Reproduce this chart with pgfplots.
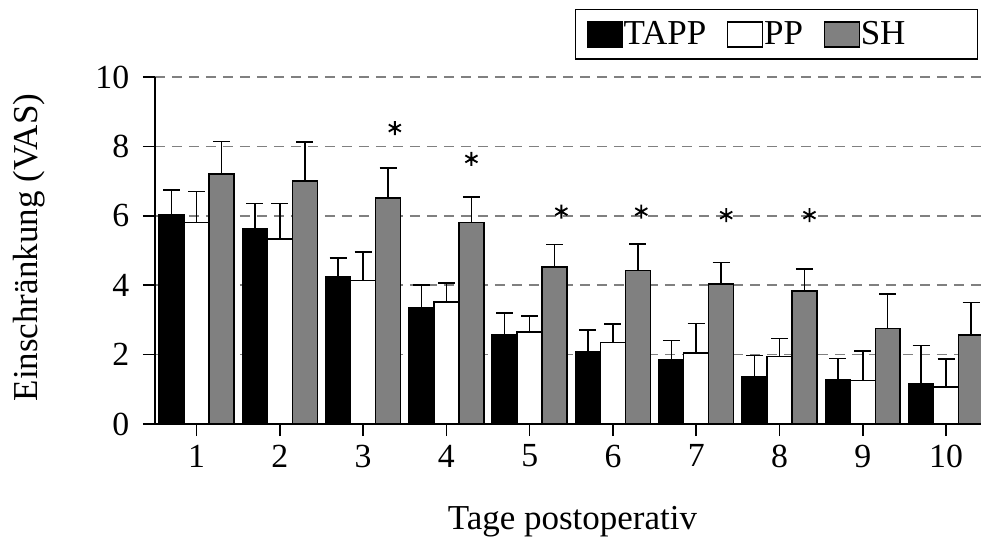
\documentclass[border=0pt]{standalone}
\usepackage{fontspec}
\setmainfont{Liberation Serif}
\usepackage{pgfplots}
\pgfplotsset{compat=1.18}
\pgfplotsset{
  frame/.style={
    scale only axis, width=330.4pt, height=138.8pt,
    xmin=0.5, xmax=10.42, ymin=0, ymax=10,
  },
  mybar/.style={
    draw=black, line width=0.6pt,
    error bars/y dir=plus, error bars/y explicit,
    error bars/error bar style={line width=0.6pt, black},
    error bars/error mark options={rotate=90, line width=0.6pt, black, mark size=3.4pt},
  },
}
\begin{document}
\begin{tikzpicture}
\begin{axis}[
  frame,
  ybar=0pt, bar width=0.3,
  xtick={1,...,10}, ytick={0,2,...,10},
  axis x line=bottom, axis y line=left,
  axis line style={-, line width=0.6pt, black},
  every outer x axis line/.append style={-},
  every outer y axis line/.append style={-},
  tick align=outside, major tick length=4.8pt,
  tick style={line width=0.6pt, black},
  ymajorgrids,
  grid style={dash pattern=on 4pt off 2.8pt, gray, line width=0.6pt},
  ticklabel style={font=\fontsize{13.5}{16}\selectfont},
  yticklabel style={xshift=-2pt},
  /pgf/number format/assume math mode=true,
  label style={font=\fontsize{14}{17}\selectfont},
  xlabel={Tage postoperativ},
  ylabel={Einschränkung (VAS)},
  xlabel style={at={(axis description cs:0.5054,-0.282)}, anchor=center},
  ylabel style={at={(axis description cs:-0.1525,0.5086)}, anchor=center},
  clip=false,
  legend columns=3,
  legend image code/.code={%
    \draw[#1, line width=0.5pt, draw=black] (0pt,-5pt) rectangle (14pt,5pt);},
  legend style={at={(0.9964,1.196)}, anchor=north east, draw=black,
    line width=0.6pt, inner xsep=4.4pt, inner ysep=3.5pt,
    font=\fontsize{14}{16}\selectfont, nodes={inner xsep=0.3pt, inner ysep=1pt},
    /tikz/every even column/.append style={column sep=8pt}},
]
\addplot[mybar, bar shift=-0.3, fill=black] coordinates {
  (1,6.02) +- (0,0.72)
  (2,5.64) +- (0,0.71)
  (3,4.25) +- (0,0.53)
  (4,3.36) +- (0,0.64)
  (5,2.56) +- (0,0.64)
  (6,2.07) +- (0,0.64)
  (7,1.86) +- (0,0.54)
  (8,1.36) +- (0,0.61)
  (9,1.27) +- (0,0.62)
  (10,1.16) +- (0,1.10)
};
\addlegendentry{TAPP}
\addplot[mybar, bar shift=0, fill=white] coordinates {
  (1,5.81) +- (0,0.89)
  (2,5.33) +- (0,1.02)
  (3,4.14) +- (0,0.82)
  (4,3.52) +- (0,0.54)
  (5,2.65) +- (0,0.46)
  (6,2.35) +- (0,0.53)
  (7,2.05) +- (0,0.85)
  (8,1.94) +- (0,0.53)
  (9,1.25) +- (0,0.85)
  (10,1.07) +- (0,0.80)
};
\addlegendentry{PP}
\addplot[mybar, bar shift=0.3, fill=gray] coordinates {
  (1,7.20) +- (0,0.94)
  (2,7.01) +- (0,1.12)
  (3,6.51) +- (0,0.87)
  (4,5.81) +- (0,0.73)
  (5,4.53) +- (0,0.64)
  (6,4.43) +- (0,0.76)
  (7,4.03) +- (0,0.62)
  (8,3.84) +- (0,0.62)
  (9,2.75) +- (0,1.00)
  (10,2.56) +- (0,0.94)
};
\addlegendentry{SH\hspace*{24pt}}
\coordinate (bbsw) at (rel axis cs:-0.18765,-0.32853);
\coordinate (bbne) at (rel axis cs:1,1.2219);
\end{axis}
% significance asterisks, same frame as the bar axis
\begin{axis}[frame, hide axis, clip=false]
\addplot[only marks, mark=asterisk, mark size=2.8pt,
  mark options={line width=0.75pt, black}] coordinates {
  (3.38,8.53) (4.30,7.64) (5.38,6.12) (6.34,6.12) (7.36,6.02) (8.36,6.02)
};
\end{axis}
\pgfresetboundingbox
\path (bbsw) rectangle (bbne);
\end{tikzpicture}
\end{document}
